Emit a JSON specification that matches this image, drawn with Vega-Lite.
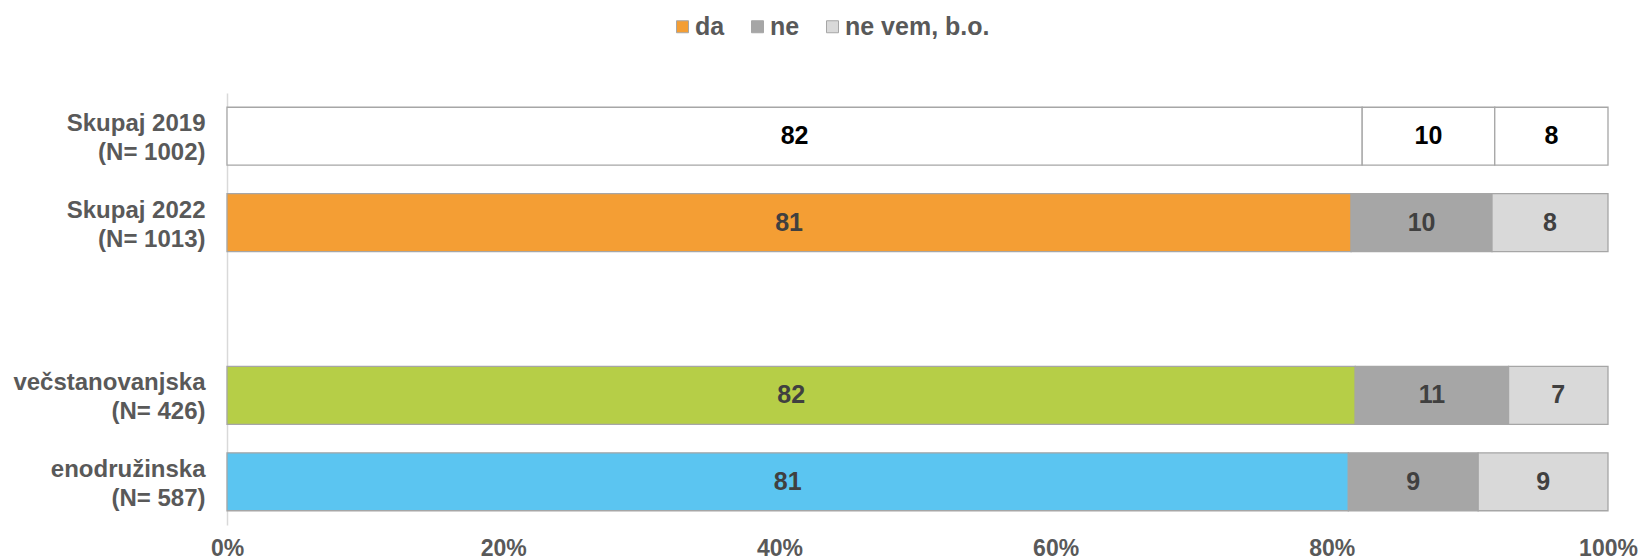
{
  "$schema": "https://vega.github.io/schema/vega-lite/v6.json",
  "autosize": "none",
  "width": 1381,
  "height": 432,
  "padding": {"left": 227, "top": 93, "right": 30, "bottom": 35},
  "background": "white",
  "config": {
    "font": "Liberation Sans",
    "view": {"stroke": null}
  },
  "data": {
    "values": [
      {"skupina": "Skupaj 2019|(N= 1002)", "odgovor": "da", "delez": 82.2},
      {"skupina": "Skupaj 2019|(N= 1002)", "odgovor": "ne", "delez": 9.6},
      {"skupina": "Skupaj 2019|(N= 1002)", "odgovor": "ne vem, b.o.", "delez": 8.2},
      {"skupina": "Skupaj 2022|(N= 1013)", "odgovor": "da", "delez": 81.4},
      {"skupina": "Skupaj 2022|(N= 1013)", "odgovor": "ne", "delez": 10.2},
      {"skupina": "Skupaj 2022|(N= 1013)", "odgovor": "ne vem, b.o.", "delez": 8.4},
      {"skupina": "večstanovanjska|(N= 426)", "odgovor": "da", "delez": 81.7},
      {"skupina": "večstanovanjska|(N= 426)", "odgovor": "ne", "delez": 11.1},
      {"skupina": "večstanovanjska|(N= 426)", "odgovor": "ne vem, b.o.", "delez": 7.2},
      {"skupina": "enodružinska|(N= 587)", "odgovor": "da", "delez": 81.2},
      {"skupina": "enodružinska|(N= 587)", "odgovor": "ne", "delez": 9.4},
      {"skupina": "enodružinska|(N= 587)", "odgovor": "ne vem, b.o.", "delez": 9.4}
    ]
  },
  "encoding": {
    "y": {
      "field": "skupina",
      "type": "nominal",
      "title": null,
      "scale": {
        "domain": ["Skupaj 2019|(N= 1002)", "Skupaj 2022|(N= 1013)", " ", "večstanovanjska|(N= 426)", "enodružinska|(N= 587)"],
        "paddingInner": 0.33,
        "paddingOuter": 0.165
      },
      "axis": {
        "labelExpr": "split(datum.label, '|')",
        "labelFontSize": 24,
        "labelFontWeight": "bold",
        "labelColor": "#595959",
        "labelAlign": "right",
        "labelBaseline": "middle",
        "labelLineHeight": 29,
        "labelOffset": -12,
        "labelPadding": 22,
        "labelLimit": 400,
        "ticks": false,
        "domainColor": "#D9D9D9",
        "domainWidth": 1.5,
        "grid": false
      }
    },
    "x": {
      "field": "delez",
      "type": "quantitative",
      "stack": "normalize",
      "title": null,
      "axis": {
        "values": [0, 0.2, 0.4, 0.6, 0.8, 1],
        "format": ".0%",
        "labelFontSize": 23,
        "labelFontWeight": "bold",
        "labelColor": "#595959",
        "labelPadding": 12,
        "labelFlush": false,
        "ticks": false,
        "domain": false,
        "grid": false
      }
    },
    "order": {"field": "odgovor", "type": "nominal", "sort": "ascending"}
  },
  "layer": [
    {
      "mark": {"type": "bar", "stroke": "#A6A6A6", "strokeWidth": 1.3, "opacity": 1},
      "encoding": {
        "color": {
          "field": "odgovor",
          "type": "nominal",
          "scale": {
            "domain": ["da", "ne", "ne vem, b.o."],
            "range": ["#F49E34", "#A6A6A6", "#D9D9D9"]
          },
          "condition": [
            {"test": "datum.skupina == 'Skupaj 2019|(N= 1002)'", "value": "#FFFFFF"},
            {"test": "datum.skupina == 'večstanovanjska|(N= 426)' && datum.odgovor == 'da'", "value": "#B6CE47"},
            {"test": "datum.skupina == 'enodružinska|(N= 587)' && datum.odgovor == 'da'", "value": "#5BC5F1"}
          ],
          "legend": {
            "title": null,
            "orient": "none",
            "direction": "horizontal",
            "legendX": 443,
            "legendY": -79,
            "symbolType": "square",
            "symbolSize": 144,
            "symbolStrokeColor": "#A6A6A6",
            "symbolStrokeWidth": 1,
            "labelFontSize": 25,
            "labelFontWeight": "bold",
            "labelColor": "#595959",
            "labelOffset": 0,
            "columnPadding": 20
          }
        }
      }
    },
    {
      "mark": {"type": "text", "fontSize": 25, "fontWeight": "bold", "baseline": "middle", "align": "center"},
      "encoding": {
        "x": {
          "field": "delez",
          "type": "quantitative",
          "stack": "normalize",
          "bandPosition": 0.5
        },
        "text": {"field": "delez", "type": "quantitative", "format": ".0f"},
        "color": {
          "condition": {"test": "datum.skupina == 'Skupaj 2019|(N= 1002)'", "value": "#000000"},
          "value": "#404040"
        }
      }
    }
  ]
}
